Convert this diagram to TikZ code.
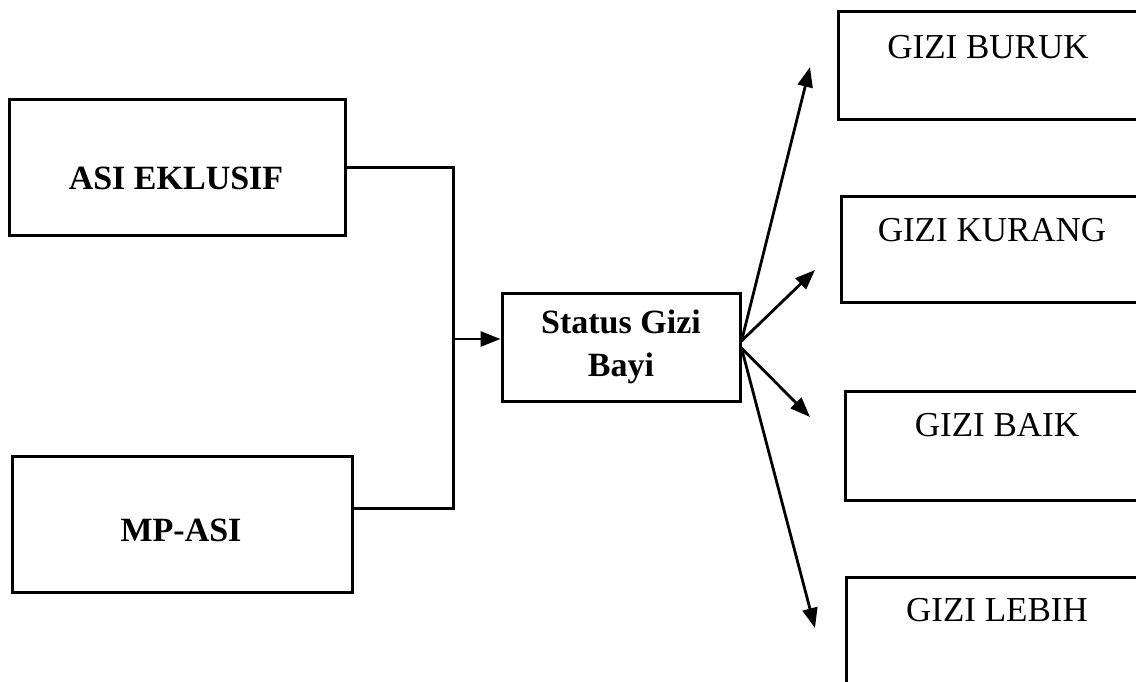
\documentclass[tikz,border=0pt]{standalone}
\usepackage{fontspec}
\setmainfont{Liberation Serif}
\usetikzlibrary{arrows.meta}
\begin{document}
\begin{tikzpicture}[x=1pt,y=-1pt,
  box/.style={draw,line width=3pt,rectangle,inner sep=0pt},
  lbl/.style={font=\fontsize{34}{42}\selectfont\bfseries,inner sep=0pt},
  rlbl/.style={font=\fontsize{35}{42}\selectfont,inner sep=0pt},
  conn/.style={line width=3pt},
  arr/.style={line width=2.8pt,-{Triangle[length=20pt,width=15pt]}}]
\useasboundingbox (0,0) rectangle (1136,682);
\clip (0,0) rectangle (1136,682);
% left boxes
\node[box,minimum width=336pt,minimum height=135pt] (asi) at (177,167.5) {};
\node[lbl] (asit) at (176,178) {ASI EKLUSIF};
\node[box,minimum width=340pt,minimum height=136pt] (mp) at (182,524) {};
\node[lbl] (mpt) at (181,530) {MP-ASI};
% center box
\node[box,minimum width=238pt,minimum height=108pt,align=center,font=\fontsize{34}{43}\selectfont\bfseries] (st) at (621,347) {Status Gizi\\Bayi};
% right boxes
\node[box,minimum width=312pt,minimum height=108pt] (buruk) at (994,66) {};
\node[rlbl] (burukt) at (988,47) {GIZI BURUK};
\node[box,minimum width=309pt,minimum height=105pt] (kurang) at (995.5,249.5) {};
\node[rlbl] (kurangt) at (992,230) {GIZI KURANG};
\node[box,minimum width=305pt,minimum height=109pt] (baik) at (997.5,445.5) {};
\node[rlbl] (baikt) at (997,425) {GIZI BAIK};
\node[box,minimum width=304pt,minimum height=123pt] (lebih) at (998,638.5) {};
\node[rlbl] (lebiht) at (997,610) {GIZI LEBIH};
% connectors
\coordinate (j) at (453,339);
\draw[conn] (asi.east) -| (j);
\draw[conn] ([yshift=16pt]mp.east) -| (j);
\draw[arr] (j) -- ([yshift=8pt]st.west);
\coordinate (t1) at (810,67);
\coordinate (t2) at (815,270);
\coordinate (t3) at (810,417);
\coordinate (t4) at (815,628);
\draw[arr] ([yshift=6pt]st.east) -- (t1);
\draw[arr] ([yshift=6pt]st.east) -- (t2);
\draw[arr] ([yshift=-1pt]st.east) -- (t3);
\draw[arr] ([yshift=-1pt]st.east) -- (t4);
\end{tikzpicture}
\end{document}
